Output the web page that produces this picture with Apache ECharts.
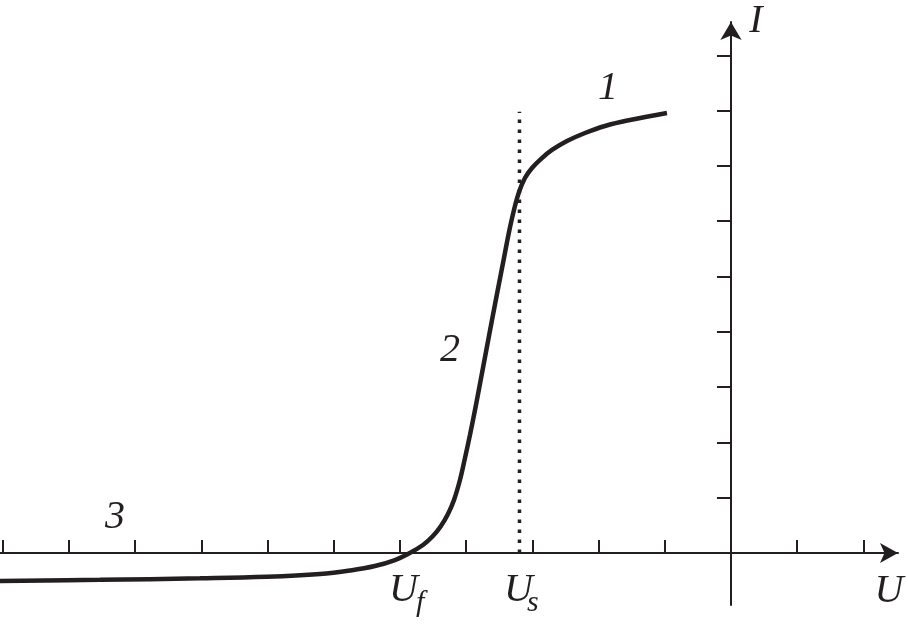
<!DOCTYPE html>
<html><head><meta charset="utf-8">
<script src="https://cdn.jsdelivr.net/npm/echarts@6/dist/echarts.min.js"></script>
<style>html,body{margin:0;padding:0;background:#fff}#c{width:908px;height:625px}</style>
</head><body><div id="c"></div>
<script>
// Probe current-voltage characteristic (arbitrary units: one tick = 1)
const curveU = [-11.042,-9.532,-8.021,-7.009,-6.208,-5.755,-5.378,-5.076,-4.879,-4.653,-4.502,-4.381,-4.275,-4.184,-4.094,-4.018,-3.943,-3.867,-3.792,-3.701,-3.610,-3.520,-3.429,-3.353,-3.278,-3.202,-3.112,-3.006,-2.870,-2.704,-2.477,-2.205,-1.903,-1.526,-0.967];
const curveI = [-0.506,-0.485,-0.458,-0.430,-0.380,-0.316,-0.235,-0.127,-0.018,0.145,0.307,0.488,0.705,0.958,1.320,1.718,2.134,2.586,3.056,3.635,4.213,4.774,5.335,5.805,6.203,6.528,6.781,6.962,7.125,7.288,7.450,7.595,7.722,7.830,7.957];
const Us = -3.195;          // saturation voltage (dotted line)
const usLineI = [0, 7.98];  // dotted line extent in I
const xTicks = [-11,-10,-9,-8,-7,-6,-5,-4,-3,-2,-1,1,2];
const yTicks = [1,2,3,4,5,6,7,8,9];
const regionLabels = ['1','2','3'];

const ink = '#231f20';
const serif = '"Liberation Serif", "Times New Roman", serif';
const chart = echarts.init(document.getElementById('c'), null, {renderer:'canvas'});

function txt(t, x, y, size, align) {
  return {type:'text', x:x, y:y, silent:true, style:{text:t, fill:ink,
    font:'italic ' + size + 'px ' + serif, textAlign: align || 'center', textVerticalAlign:'middle'}};
}

chart.setOption({
  animation:false,
  backgroundColor:'#fff',
  grid:{left:0, right:10, top:22, bottom:20, containLabel:false},
  xAxis:{type:'value', min:-11.042, max:2.523,
    axisLine:{onZero:true, symbol:['none','arrow'], symbolSize:[15,18], lineStyle:{color:ink, width:2}},
    axisTick:{show:true, inside:true, length:13, customValues:xTicks, lineStyle:{color:ink, width:2}},
    axisLabel:{show:false}, splitLine:{show:false}},
  yAxis:{type:'value', min:-0.940, max:9.602,
    axisLine:{onZero:true, symbol:['none','arrow'], symbolSize:[16,18], lineStyle:{color:ink, width:2}},
    axisTick:{show:true, inside:false, length:14, customValues:yTicks, lineStyle:{color:ink, width:2}},
    axisLabel:{show:false}, splitLine:{show:false}},
  series:[
    {type:'line', data:curveU.map((u,i)=>[u, curveI[i]]), smooth:0.4, symbol:'none',
      lineStyle:{color:ink, width:4.5}},
    {type:'line', data:usLineI.map(v=>[Us, v]), symbol:'none',
      lineStyle:{color:ink, width:3.5, type:[3.5,6.5], cap:'butt'}}
  ],
  graphic:[
    txt('I', 756, 21, 40),
    txt('U', 889, 591, 40),
    txt(regionLabels[0], 608, 88, 40),
    txt(regionLabels[1], 450, 350, 40),
    txt(regionLabels[2], 115, 517, 40),
    txt('U', 389, 590, 40, 'left'), txt('f', 416, 603, 30, 'left'),
    txt('U', 504, 590, 40, 'left'), txt('s', 527, 603, 30, 'left')
  ]
});
</script></body></html>
